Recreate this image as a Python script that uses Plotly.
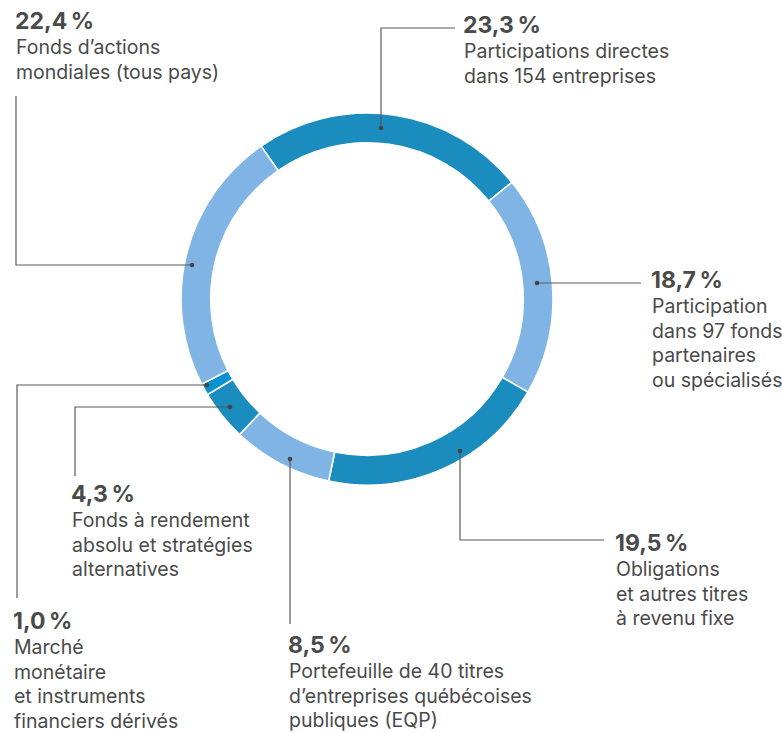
import plotly.graph_objects as go

# ---- data (clockwise order, starting at upper-left boundary) ----
pcts = [23.3, 18.7, 19.5, 8.5, 4.3, 1.0, 22.4]
pct_labels = ["23,3\u202f%", "18,7\u202f%", "19,5\u202f%", "8,5\u202f%", "4,3\u202f%", "1,0\u202f%", "22,4\u202f%"]
descriptions = [
    ["Participations directes", "dans 154 entreprises"],
    ["Participation", "dans 97 fonds", "partenaires", "ou spécialisés"],
    ["Obligations", "et autres titres", "à revenu fixe"],
    ["Portefeuille de 40 titres", "d\u2019entreprises québécoises", "publiques (EQP)"],
    ["Fonds à rendement", "absolu et stratégies", "alternatives"],
    ["Marché", "monétaire", "et instruments", "financiers dérivés"],
    ["Fonds d\u2019actions", "mondiales (tous pays)"],
]
colors = ["#1b8cbe", "#80b4e4", "#1b8cbe", "#80b4e4", "#1b8cbe", "#0a92d2", "#80b4e4"]

# ---- layout helpers (pixel geometry) ----
W, H = 782, 733
cx, cy, R = 367, 299, 186

# label anchor (x, y of the bold percentage line) and leader polylines
label_pos = [(461, 25), (649, 280), (613, 543), (286, 645), (69, 494), (11, 621), (13, 21)]
leaders = [
    [(381, 128), (381, 28), (455, 28)],
    [(537, 283), (641, 283)],
    [(460, 451), (460, 540), (604, 540)],
    [(290, 459), (290, 624)],
    [(230, 407), (75, 407), (75, 476)],
    [(207, 385), (17, 385), (17, 598)],
    [(192, 265), (16, 265), (16, 96)],
]

fig = go.Figure()

fig.add_trace(go.Pie(
    values=pcts,
    labels=[" ".join(d) for d in descriptions],
    sort=False,
    direction="clockwise",
    rotation=-34.7,
    hole=0.84,
    marker=dict(colors=colors, line=dict(color="white", width=1.6)),
    textinfo="none",
    hoverinfo="label+value",
    showlegend=False,
    domain=dict(x=[(cx - R) / W, (cx + R) / W], y=[1 - (cy + R) / H, 1 - (cy - R) / H]),
))

# leader lines and dots as shapes drawn above the ring
shapes = []
for pts in leaders:
    path = "M " + " L ".join(f"{x},{y}" for x, y in pts)
    shapes.append(dict(type="path", path=path, xref="x", yref="y", layer="above",
                       line=dict(color="#5a5a5a", width=1.2)))
    x0, y0 = pts[0]
    shapes.append(dict(type="circle", xref="x", yref="y", layer="above",
                       x0=x0 - 2.3, x1=x0 + 2.3, y0=y0 - 2.3, y1=y0 + 2.3,
                       fillcolor="#444444", line=dict(width=0)))

# invisible anchor trace so cartesian axes exist
fig.add_trace(go.Scatter(x=[0, W], y=[0, H], mode="markers", marker=dict(opacity=0),
                         hoverinfo="skip", showlegend=False))

# text labels
annotations = []
font_family = "Inter, Roboto, sans-serif"
for (lx, ly), pl, desc in zip(label_pos, pct_labels, descriptions):
    annotations.append(dict(
        x=lx, y=ly, xref="x", yref="y", text="<b>" + pl + "</b>",
        showarrow=False, xanchor="left", yanchor="middle",
        font=dict(family=font_family, size=23, color="#4a4a4a"),
    ))
    for i, line in enumerate(desc):
        annotations.append(dict(
            x=lx + 1, y=ly + 26 + i * 24.5, xref="x", yref="y", text=line,
            showarrow=False, xanchor="left", yanchor="middle",
            font=dict(family=font_family, size=19.5, color="#4a4a4a"),
        ))

fig.update_layout(
    width=W, height=H,
    margin=dict(l=0, r=0, t=0, b=0),
    paper_bgcolor="white", plot_bgcolor="rgba(0,0,0,0)",
    xaxis=dict(range=[0, W], visible=False, fixedrange=True, domain=[0, 1]),
    yaxis=dict(range=[H, 0], visible=False, fixedrange=True, domain=[0, 1]),
    annotations=annotations,
    shapes=shapes,
    showlegend=False,
)

fig.write_html("out.html", config={"displayModeBar": False},
               post_script="document.body.style.margin='0px';")
